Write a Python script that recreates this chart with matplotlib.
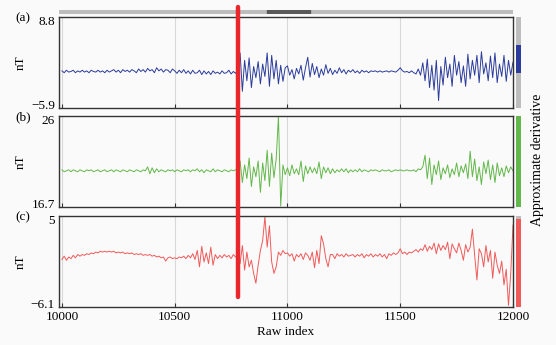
import numpy as np
import matplotlib
matplotlib.use("Agg")
import matplotlib.pyplot as plt
from matplotlib.lines import Line2D
from matplotlib.transforms import blended_transform_factory, ScaledTranslation

plt.rcParams['font.family'] = ['Liberation Serif', 'DejaVu Serif']
plt.rcParams['axes.unicode_minus'] = True

# raw sample index, every 10th sample
idx = np.arange(10000, 12001, 10)

# (a) blue trace, nT
sig_a = [0.1, -0.2, 0.2, -0.1, 0.0, 0.2, -0.2, 0.1, -0.1, 0.2,
         -0.1, 0.1, -0.2, 0.2, 0.0, -0.1, 0.2, -0.1, 0.1, -0.2,
         0.2, -0.1, 0.1, 0.3, -0.1, 0.2, -0.2, 0.3, 0.0, 0.2,
         -0.1, 0.3, 0.1, -0.2, 0.4, 0.0, 0.3, -0.1, 0.5, 0.1,
         0.3, -0.2, 0.6, 0.1, 0.4, -0.1, 0.3, 0.2, -0.2, 0.4,
         0.1, -0.3, 0.2, -0.2, 0.3, -0.3, 0.1, -0.4, 0.2, -0.3,
         -0.2, 0.2, -0.5, 0.1, -0.4, 0.0, -0.5, 0.1, -0.3, -0.1,
         -0.4, 0.1, -0.3, -0.2, 0.2, -0.4, 0.0, -0.3,
         0.3, 3.0, -3.2, 1.8, -1.5, 2.2, -2.6, 0.8, -1.0, 1.6, -2.0, 1.2,
         -0.8, 3.0, -2.4, 2.6, -1.2, 1.8, -2.0, 1.0, -1.6, 0.6,
         0.9, -0.6, 0.3, -1.2, 0.5, -0.4, 1.0, -1.4, 0.6, 2.3,
         -0.9, 1.3, -0.5, 0.8, -1.0, 0.4, -0.6, 1.1, -0.3, 0.5,
         -0.5, 0.2, -0.3, 0.6, -0.2, 0.3, -0.4, 0.2, -0.1, 0.3,
         -0.2, 0.1, -0.3, 0.2, -0.1, 0.1, -0.2, 0.1, 0.0, 0.1,
         -0.1, 0.1, -0.1, 0.0, 0.1, -0.1, 0.1, 0.0, -0.1, 0.2,
         0.6, 0.1, -0.1, 0.0, -0.2, 0.1, -0.2, -0.4, 0.4, -0.6,
         1.4, -1.5, 2.0, -2.6, 1.0, -3.0, 1.8, -4.7, 0.8, -2.2,
         2.3, -1.0, 1.2, -2.4, 2.6, -0.6, 1.6, -1.8, 0.9, -2.4,
         2.8, -1.2, 1.8, -0.6, 2.6, -1.8, 3.2, -0.4, 1.4, -1.5,
         2.5, -1.0, 3.0, -1.8, 1.2, -0.8, 2.6, -1.6, 1.8, -0.6, 1.5]

# (b) green trace, nT
sig_b = [20.5, 20.3, 20.4, 20.5, 20.3, 20.5, 20.4, 20.3, 20.5, 20.4,
         20.3, 20.5, 20.4, 20.5, 20.3, 20.4, 20.5, 20.3, 20.4, 20.5,
         20.3, 20.4, 20.5, 20.3, 20.5, 20.4, 20.3, 20.5, 20.4, 20.3,
         20.5, 20.4, 20.3, 20.5, 20.4, 20.3, 20.5, 20.4, 20.8, 20.1,
         20.7, 20.2, 20.6, 20.3, 20.5, 20.4, 20.3, 20.5, 20.4, 20.5,
         20.3, 20.5, 20.4, 20.3, 20.5, 20.4, 20.5, 20.3, 20.5, 20.4,
         20.6, 20.3, 20.5, 20.2, 20.5, 20.4, 20.3, 20.6, 20.3, 20.5,
         20.4, 20.3, 20.5, 20.4, 20.3, 20.5, 20.4, 20.5,
         20.6, 21.4, 19.2, 21.0, 19.6, 21.7, 18.8, 20.8, 19.8, 21.4, 18.2, 21.2,
         19.4, 22.5, 18.8, 22.2, 19.7, 21.6, 26.0, 16.8, 21.0, 20.0,
         20.7, 19.9, 21.0, 20.1, 20.6, 20.0, 21.4, 19.3, 20.9, 20.1,
         20.8, 20.2, 20.7, 20.1, 21.3, 19.6, 20.8, 20.2, 20.7, 20.1,
         20.6, 20.2, 20.5, 20.3, 20.6, 20.3, 20.6, 20.2, 20.5, 20.3,
         20.5, 20.3, 20.6, 20.3, 20.5, 20.4, 20.3, 20.5, 20.4, 20.5,
         20.4, 20.3, 20.5, 20.4, 20.4, 20.5, 20.3, 20.4, 20.5, 20.4,
         20.5, 20.4, 20.4, 20.5, 20.4, 20.4, 20.5, 20.3, 20.6, 20.5,
         20.8, 22.0, 19.6, 21.7, 19.0, 21.0, 20.0, 21.4, 19.5, 20.7,
         20.1, 21.0, 19.7, 20.6, 20.0, 21.2, 19.8, 20.9, 20.2, 21.1,
         19.6, 22.4, 19.8, 21.6, 19.4, 20.8, 19.0, 21.3, 20.1, 21.5,
         19.5, 21.0, 19.2, 21.2, 19.9, 20.7, 19.8, 20.9, 20.2, 20.8, 20.4]

# (c) red trace, nT
sig_c = [-0.3, 0.1, -0.4, 0.0, -0.2, 0.2, -0.1, 0.3, 0.1, 0.3,
         0.2, 0.4, 0.3, 0.5, 0.4, 0.6, 0.5, 0.7, 0.6, 0.7,
         0.6, 0.7, 0.6, 0.7, 0.5, 0.6, 0.5, 0.6, 0.4, 0.5,
         0.4, 0.5, 0.3, 0.4, 0.3, 0.4, 0.2, 0.3, 0.2, 0.3,
         0.1, 0.2, 0.0, 0.1, -0.1, 0.0, -0.5, -0.1, 0.0, -0.2,
         -0.1, -0.2, 0.0, -0.1, 0.1, -0.2, 0.2, -0.1, 0.4, -0.3,
         0.8, -1.2, 1.3, -0.6, 0.5, -0.8, 1.2, -1.0, 0.3, -0.2,
         0.2, -0.1, 0.3, 0.0, 0.2, -0.2, 0.3, 0.0,
         0.2, -0.8, 1.4, -1.6, 0.6, -1.2, -0.4, -2.0, -3.2, -1.0, 0.8, 2.0,
         4.9, 1.2, 3.8, -0.6, -2.0, -1.2, 0.6, 0.2, 0.8, 0.4,
         0.5, 0.1, 0.4, -0.5, 0.3, 0.0, 0.4, -0.3, 0.5, 0.2,
         -0.4, 0.6, -1.3, 0.8, -0.8, 2.6, 1.6, -0.2, -1.2, 0.3,
         0.3, -0.2, 0.4, 0.1, 0.3, 0.0, 0.4, 0.1, 0.2, 0.3,
         0.0, 0.3, 0.1, 0.4, -0.1, 0.3, 0.1, 0.4, 0.0, 0.3,
         0.1, 0.4, 0.0, 0.3, -0.2, 0.4, 0.2, 0.5, 0.3, 0.5,
         1.0, 0.4, 0.6, 0.3, 0.6, 0.5, 0.7, 0.9, 0.6, 1.0,
         0.8, 1.5, 0.7, 1.3, 0.9, 1.7, 0.4, 1.6, 0.8, 1.4,
         0.9, 1.8, -0.2, 1.6, 1.0, 0.5, 1.7, 0.8, -0.4, 1.5,
         0.6, 1.2, 3.4, 0.2, -2.8, 1.0, 0.4, -1.2, 1.4, -0.6,
         0.8, -2.6, 0.6, -1.0, -2.0, -0.5, -3.4, -1.5, -5.9, -2.0, 3.9]

panel_tags = ['(a)', '(b)', '(c)']
y_limits = [(-5.9, 8.8), (16.7, 26), (-6.1, 5)]
y_ticklabels = [['\u22125.9', '8.8'], ['16.7', '26'], ['\u22126.1', '5']]
x_ticks = [10000, 10500, 11000, 11500, 12000]
event_index = 10780          # red marker
window = (10910, 11100)      # dark part of the top strip
side_fill = [(0.38, 0.69), (0.0, 1.0), (0.0, 0.97)]  # coloured part of the side bars

colors = ['#2b3c9c', '#62b84a', '#f05a5a']
bg = '#fafafa'

fig = plt.figure(figsize=(5.56, 3.45), dpi=100, facecolor=bg)
left, width = 59 / 556, 454 / 556
tops = [17, 116, 216]
h = 91 / 345
series = [sig_a, sig_b, sig_c]
axes = []
for i, (sig, col) in enumerate(zip(series, colors)):
    bottom = 1 - (tops[i] + 91) / 345
    ax = fig.add_axes([left, bottom, width, h], facecolor=bg)
    ax.plot(idx, sig, color=col, lw=0.7)
    ax.set_xlim(9987, 12000)
    ax.set_ylim(*y_limits[i])
    ax.set_yticks(y_limits[i])
    ax.set_yticklabels(y_ticklabels[i], fontsize=9.5)
    ax.tick_params(axis='y', length=0, pad=3)
    # nudge the end labels inward so neighbouring panels' labels don't collide
    lo_lab, hi_lab = ax.get_yticklabels()
    lo_lab.set_transform(lo_lab.get_transform() + ScaledTranslation(0, 2.5 / 72, fig.dpi_scale_trans))
    hi_lab.set_transform(hi_lab.get_transform() + ScaledTranslation(0, -2.5 / 72, fig.dpi_scale_trans))
    ax.set_xticks(x_ticks)
    ax.tick_params(axis='x', direction='in', length=3, width=0.8, color='#333333',
                   labelsize=9.5, pad=3)
    ax.grid(axis='x', color='#d8d8d8', lw=0.8)
    for s in ax.spines.values():
        s.set_color('#333333')
        s.set_linewidth(1.0)
    ax.set_ylabel('nT', fontsize=9.5)
    ax.yaxis.set_label_coords(-0.07, 0.5)
    if i < 2:
        ax.set_xticklabels([])
    fig.text(15 / 556, 1 - (tops[i] + 1) / 345, panel_tags[i], fontsize=9.5,
             ha='left', va='center')
    # side indicator bar
    sax = fig.add_axes([516 / 556, bottom, 5 / 556, h])
    sax.set_xlim(0, 1)
    sax.set_ylim(0, 1)
    sax.axis('off')
    sax.bar(0.5, 1, width=1, bottom=0, color='#bdbdbd')
    lo, hi = side_fill[i]
    sax.bar(0.5, hi - lo, width=1, bottom=lo, color=col)
    axes.append(ax)

axes[2].set_xlabel('Raw index', fontsize=9.5, labelpad=2)

# top strip
tax = fig.add_axes([left, 1 - 14 / 345, width, 4 / 345])
tax.set_xlim(axes[0].get_xlim())
tax.set_ylim(0, 1)
tax.axis('off')
tax.axvspan(9987, 12000, color='#bdbdbd')
tax.axvspan(window[0], window[1], color='#5a5a5a')

fig.text(537 / 556, 1 - 160 / 345, 'Approximate derivative', rotation=90,
         fontsize=10, ha='center', va='center')

# red event marker crossing all panels
tr = blended_transform_factory(axes[2].transData, fig.transFigure)
fig.add_artist(Line2D([event_index, event_index], [1 - 7 / 345, 1 - 297 / 345],
                      transform=tr, color='#e8262b', lw=3.2,
                      solid_capstyle='round', zorder=10))

fig.savefig('out.png', dpi=100, facecolor=bg)
